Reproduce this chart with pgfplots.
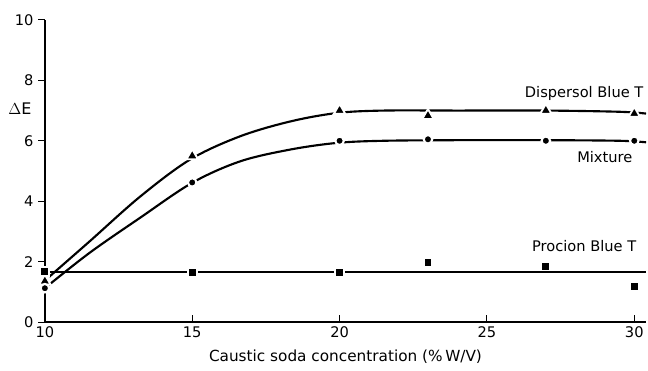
\documentclass[border=0pt]{standalone}
\usepackage{pgfplots}
\pgfplotsset{compat=1.18}
\usepackage{fontspec}
\setmainfont{DejaVu Sans}
\usetikzlibrary{plotmarks}
\begin{document}
\begin{tikzpicture}
\begin{axis}[
  at={(0,0)}, anchor=origin,
  scale only axis, width=452.25pt, height=227.25pt,
  xmin=10, xmax=30.4, ymin=0, ymax=10,
  axis x line=bottom, axis y line=left,
  axis line style={-, line width=1.6pt},
  xtick={10,15,20,25,30}, ytick={0,2,4,6,8,10},
  tick style={black, line width=0.8pt},
  major tick length=5pt,
  ytick align=outside, xtick align=inside,
  /pgf/number format/assume math mode=true,
  tick label style={font=\fontsize{11}{12}\selectfont},
  xlabel={Caustic soda concentration (\%\,W/V)},
  xlabel style={font=\fontsize{11.5}{13}\selectfont, yshift=-2pt},
  clip=false,
]
% fitted curves
\addplot[black, line width=1.6pt, smooth, tension=0.55] coordinates {
 (10.15,1.5) (11.53,2.68) (13.23,4.15) (14.93,5.38) (16.63,6.15) (18.33,6.64) (19.92,6.92) (21.5,7.0) (24,7.0) (27,7.0) (29.5,6.96) (30.4,6.9)};
\addplot[black, line width=1.6pt, smooth, tension=0.55] coordinates {
 (10.1,1.2) (11.53,2.3) (13.23,3.45) (15,4.61) (16.63,5.32) (18.33,5.71) (19.92,5.93) (21.5,6.0) (24,6.02) (27,6.02) (29.5,6.0) (30.4,5.95)};
\addplot[black, line width=1.6pt] coordinates {(10,1.65) (30.4,1.65)};
% data points
\addplot[only marks, mark=triangle*, mark size=5pt, mark options={draw=white, line width=1.4pt, fill=black}] coordinates {
 (10,1.35) (15,5.5) (20,7.0) (23,6.83) (27,7.0) (30,6.9)};
\addplot[only marks, mark=*, mark size=3.2pt, mark options={draw=white, line width=1.6pt, fill=black}] coordinates {
 (10,1.12) (15,4.62) (20,6.0) (23,6.05) (27,6.0) (30,6.0)};
\addplot[only marks, mark=square*, mark size=3.3pt, mark options={draw=white, line width=1.4pt, fill=black}] coordinates {
 (10,1.67) (15,1.65) (20,1.65) (23,1.97) (27,1.85) (30,1.19)};
% labels
\node[font=\fontsize{11}{12}\selectfont] at (axis cs:28.3,7.55) {Dispersol Blue T};
\node[font=\fontsize{11}{12}\selectfont] at (axis cs:29.0,5.45) {Mixture};
\node[font=\fontsize{11}{12}\selectfont] at (axis cs:28.3,2.5) {Procion Blue T};
\node[font=\fontsize{12}{13}\selectfont] at (axis cs:9.15,7.05) {$\Delta$E};
\end{axis}
\path[use as bounding box] (-33.75pt,-36.75pt) rectangle (452.25pt,242.25pt);
\end{tikzpicture}
\end{document}
